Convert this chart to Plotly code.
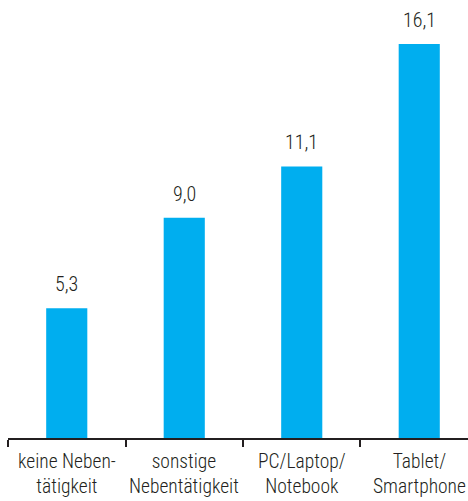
import plotly.graph_objects as go

cat_line1 = ["keine Neben-", "sonstige", "PC/Laptop/", "Tablet/"]
cat_line2 = ["tätigkeit", "Nebentätigkeit", "Notebook", "Smartphone"]
categories = [a + "<br>" + b for a, b in zip(cat_line1, cat_line2)]
values = [5.3, 9.0, 11.1, 16.1]
value_labels = ["5,3", "9,0", "11,1", "16,1"]

FONT = "Roboto Condensed, Liberation Sans Narrow, DejaVu Sans Condensed, sans-serif"
BLUE = "#00AEEF"
TXT = "#231F20"

fig = go.Figure()
fig.add_trace(go.Bar(x=categories, y=values, marker=dict(color=BLUE, line=dict(width=0)), width=0.35))

for c, v, lab in zip(categories, values, value_labels):
    fig.add_annotation(x=c, y=v, text=lab, showarrow=False, yanchor="bottom", yshift=10,
                       font=dict(family=FONT, size=20, color=TXT, weight=300))

for c in categories:
    fig.add_annotation(x=c, xref="x", y=0, yref="paper", text=c, showarrow=False,
                       yanchor="bottom", yshift=-62,
                       font=dict(family=FONT, size=19.5, color=TXT, weight=300))

fig.update_layout(
    width=468, height=501,
    margin=dict(l=8, r=0, t=0, b=63),
    paper_bgcolor="white", plot_bgcolor="white",
    showlegend=False,
    font=dict(family=FONT, size=20, color=TXT),
    xaxis=dict(
        type="category",
        range=[-0.5, 3.415],
        showline=True, linecolor=TXT, linewidth=2,
        ticks="outside", tickson="boundaries", ticklen=7, tickwidth=1.5, tickcolor=TXT,
        showticklabels=False,
        showgrid=False, zeroline=False,
    ),
    yaxis=dict(range=[0, 17.9], visible=False, showgrid=False, zeroline=False),
)

fig.write_html("out.html")
